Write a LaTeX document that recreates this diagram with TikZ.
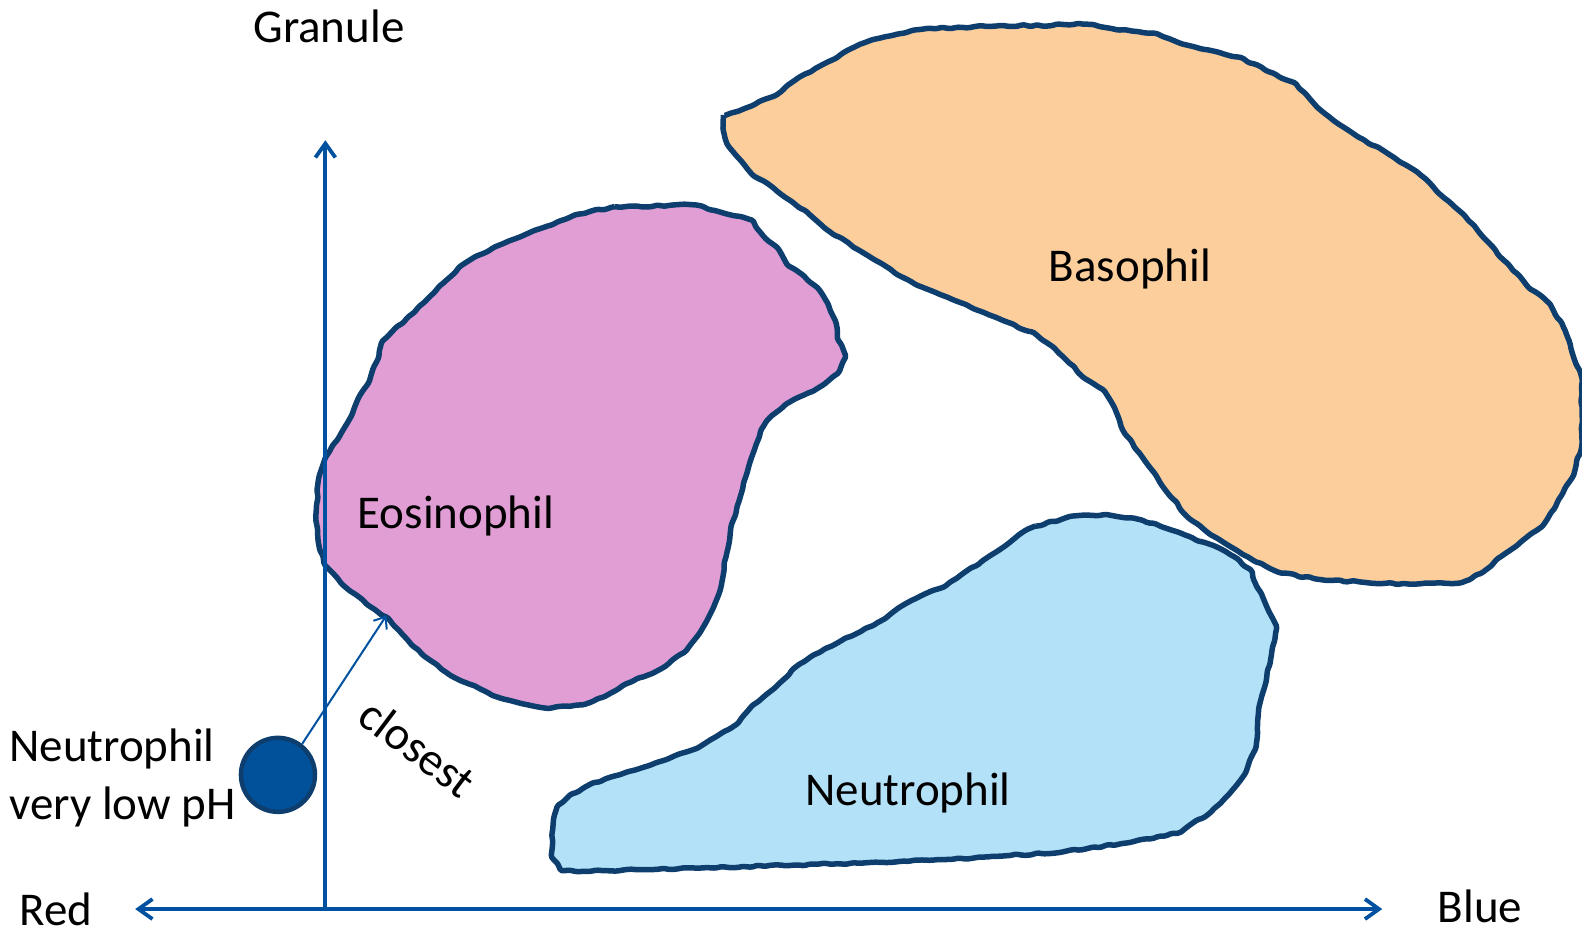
\documentclass[tikz,border=0pt]{standalone}
\usepackage{fontspec}
\setmainfont{Carlito}
\usetikzlibrary{arrows.meta,decorations.pathmorphing}
\definecolor{outl}{HTML}{0D3E6E}
\definecolor{axisc}{HTML}{0052A0}
\definecolor{eosc}{HTML}{E09ED4}
\definecolor{basc}{HTML}{FCCE9C}
\definecolor{neuc}{HTML}{B3E1F7}
\definecolor{dotc}{HTML}{00519A}
\tikzset{
  blob/.style={draw=outl, line width=5.5pt, line join=round, rounded corners=1.5pt,
    decorate, decoration={random steps, segment length=7pt, amplitude=1.1pt}},
  axisline/.style={draw=axisc, line width=3.8pt, -{Straight Barb[length=14pt,width=20pt,line width=3.8pt]}},
  lbl/.style={font=\fontsize{47}{58}\selectfont, inner sep=0pt},
}
\pgfmathsetseed{7}
\begin{document}
\begin{tikzpicture}[x=1.009pt,y=-1.009pt]
\useasboundingbox (0,0) rectangle (1568,922);
% Basophil
\path[blob, fill=basc] (717,115) -- (745,105) -- (768,95) -- (790,78) -- (808,68) -- (828,58) -- (850,45) -- (875,37) -- (905,30) -- (950,27) -- (1075,24) -- (1100,28) -- (1145,33) -- (1170,43) -- (1200,50) -- (1230,57) -- (1255,70) -- (1283,82) -- (1300,100) -- (1320,118) -- (1345,135) -- (1380,155) -- (1410,175) -- (1430,195) -- (1450,212) -- (1470,235) -- (1495,262) -- (1515,285) -- (1535,300) -- (1550,325) -- (1560,355) -- (1568,375) -- (1568,440) -- (1560,470) -- (1545,495) -- (1530,520) -- (1510,535) -- (1490,550) -- (1470,567) -- (1450,577) -- (1400,579) -- (1350,577) -- (1305,574) -- (1270,568) -- (1245,557) -- (1225,545) -- (1200,530) -- (1180,515) -- (1160,492) -- (1145,470) -- (1130,450) -- (1115,430) -- (1105,405) -- (1095,388) -- (1075,375) -- (1060,360) -- (1045,345) -- (1025,330) -- (995,318) -- (965,306) -- (940,295) -- (915,285) -- (895,275) -- (875,262) -- (858,252) -- (840,240) -- (820,228) -- (805,215) -- (785,200) -- (765,185) -- (748,175) -- (735,160) -- (722,145) -- (717,130) -- cycle;
% Eosinophil
\path[blob, fill=eosc] (608,205) -- (688,203) -- (720,212) -- (745,218) -- (755,232) -- (770,245) -- (780,262) -- (795,272) -- (810,285) -- (820,300) -- (828,318) -- (830,335) -- (838,352) -- (832,368) -- (818,380) -- (800,390) -- (780,400) -- (765,412) -- (755,425) -- (748,445) -- (740,470) -- (733,495) -- (725,520) -- (720,550) -- (715,580) -- (708,600) -- (695,625) -- (680,645) -- (660,660) -- (640,670) -- (620,678) -- (600,690) -- (580,698) -- (545,702) -- (520,698) -- (490,690) -- (465,678) -- (440,665) -- (420,650) -- (400,630) -- (385,613) -- (365,600) -- (340,580) -- (322,560) -- (316,540) -- (313,515) -- (315,480) -- (322,455) -- (335,435) -- (345,418) -- (355,395) -- (365,380) -- (375,355) -- (378,340) -- (392,325) -- (410,310) -- (425,295) -- (440,280) -- (455,265) -- (470,255) -- (490,245) -- (515,235) -- (540,225) -- (570,213) -- cycle;
% Neutrophil
\path[blob, fill=neuc] (1025,522) -- (1060,512) -- (1095,510) -- (1130,515) -- (1160,525) -- (1195,538) -- (1220,550) -- (1240,565) -- (1245,580) -- (1265,620) -- (1260,650) -- (1255,675) -- (1248,700) -- (1245,740) -- (1235,765) -- (1220,785) -- (1200,805) -- (1170,825) -- (1120,835) -- (1050,845) -- (1000,848) -- (930,852) -- (860,855) -- (780,858) -- (700,860) -- (640,862) -- (600,863) -- (557,863) -- (547,850) -- (548,820) -- (552,800) -- (565,788) -- (580,780) -- (600,772) -- (630,763) -- (660,753) -- (690,742) -- (710,730) -- (730,718) -- (745,700) -- (760,688) -- (775,675) -- (790,660) -- (805,650) -- (825,640) -- (845,630) -- (870,617) -- (890,603) -- (910,592) -- (935,582) -- (955,568) -- (975,555) -- (995,542) -- (1010,530) -- cycle;
% axes
\coordinate (org) at (322.5,901);
\coordinate (ytop) at (322.5,139);
\coordinate (xl) at (134,901);
\coordinate (xr) at (1370,901);
\draw[axisline] (org) -- (ytop);
\draw[axisline] (org) -- (xl);
\draw[axisline] (org) -- (xr);
% labels
\node[lbl] (gran) at (326,26) {Granule};
\node[lbl, anchor=base west] (red) at (19,917) {Red};
\node[lbl, anchor=base west] (blue) at (1425,914) {Blue};
\node[lbl] (bas) at (1120,267) {Basophil};
\node[lbl] (eos) at (452,511) {Eosinophil};
\node[lbl] (neu) at (900,786) {Neutrophil};
\node[lbl, anchor=west, align=left] (np) at (9,771) {Neutrophil\\very low pH};
% dot and arrow
\node[circle, fill=dotc, draw=outl, line width=4.5pt, minimum size=74pt, inner sep=0pt] (dot) at (275.5,768) {};
\coordinate (near) at (383,610);
\draw[axisc, line width=2pt, -{Straight Barb[length=10pt,width=16pt,line width=2pt]}] (dot.52) -- (near);
\node[lbl, rotate=-37] (clo) at (414,741) {closest};
\end{tikzpicture}
\end{document}
